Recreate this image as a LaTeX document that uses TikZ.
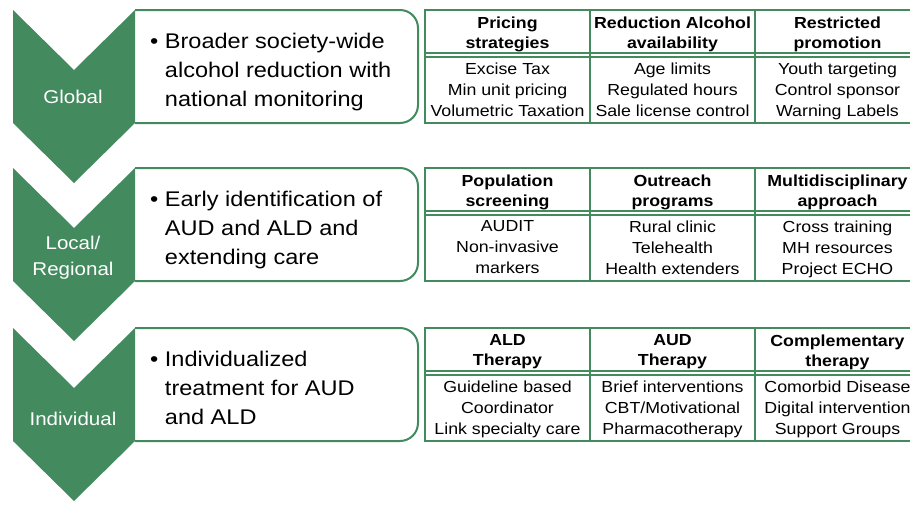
\documentclass[tikz,border=0pt]{standalone}
\usepackage{fontspec}
\setmainfont{Liberation Sans}[FakeStretch=1.11]
\definecolor{grn}{RGB}{67,138,94}
\tikzset{
 rbox/.style={draw=grn,line width=2pt,fill=white,rounded corners=18pt},
 tline/.style={draw=grn,line width=1.4pt},
 lvl/.style={text=white,font=\fontsize{18.5}{26}\selectfont,align=center,inner sep=0pt},
 btxt/.style={font=\fontsize{21.2}{29}\selectfont,align=left,inner sep=0pt,anchor=north west},
 hcell/.style={font=\fontsize{16}{20}\selectfont\bfseries,align=center,inner sep=0pt,anchor=north},
 bcell/.style={font=\fontsize{16}{21}\selectfont,align=center,inner sep=0pt,anchor=north},
}
\newcommand\levelframe[1]{%
 \draw[rbox] (135,#1) -- (418,#1) -- (418,#1+113) -- (135,#1+113);
 \fill[grn] (13,#1) -- (74,#1+60) -- (135,#1) -- (135,#1+113) -- (74,#1+173) -- (13,#1+113) -- cycle;
 \draw[tline] (425,#1) rectangle (925,#1+113);
 \draw[tline] (425,#1+43) -- (925,#1+43) (425,#1+47) -- (925,#1+47);
 \draw[tline] (590,#1) -- (590,#1+113) (755,#1) -- (755,#1+113);
}
\newcommand\hang{\phantom{\textbullet\ }}
\begin{document}
\begin{tikzpicture}[x=1pt,y=-1pt]
\clip (0,0) rectangle (910,504);
\fill[white] (0,0) rectangle (910,504);
% ---------- Global
\levelframe{10}
\node[lvl,anchor=base] (gl) at (73,103) {Global};
\node[btxt] (gt) at (150,33) {\textbullet\ Broader society-wide\\\hang alcohol reduction with\\\hang national monitoring};
\node[hcell] (gh1) at (507.5,16.5) {Pricing\\strategies};
\node[hcell] (gh2) at (672.5,16.5) {Reduction Alcohol\\availability};
\node[hcell] (gh3) at (837.5,16.5) {Restricted\\promotion};
\node[bcell] (gb1) at (507.5,62.5) {Excise Tax\\Min unit pricing\\Volumetric Taxation};
\node[bcell] (gb2) at (672.5,62.5) {Age limits\\Regulated hours\\Sale license control};
\node[bcell] (gb3) at (837.5,62.5) {Youth targeting\\Control sponsor\\Warning Labels};
% ---------- Local / Regional
\levelframe{168}
\node[lvl,anchor=north] (ll) at (73,235.5) {Local/\\Regional};
\node[btxt] (lt) at (150,191) {\textbullet\ Early identification of\\\hang AUD and ALD and\\\hang extending care};
\node[hcell] (lh1) at (507.5,174.5) {Population\\screening};
\node[hcell] (lh2) at (672.5,174.5) {Outreach\\programs};
\node[hcell] (lh3) at (837.5,174.5) {Multidisciplinary\\approach};
\node[bcell] (lb1) at (507.5,220.5) {AUDIT\\Non-invasive\\markers};
\node[bcell] (lb2) at (672.5,220.5) {Rural clinic\\Telehealth\\Health extenders};
\node[bcell] (lb3) at (837.5,220.5) {Cross training\\MH resources\\Project ECHO};
% ---------- Individual
\levelframe{328}
\node[lvl,anchor=base] (il) at (73,425) {Individual};
\node[btxt] (it) at (150,351) {\textbullet\ Individualized\\\hang treatment for AUD\\\hang and ALD};
\node[hcell] (ih1) at (507.5,334.5) {ALD\\Therapy};
\node[hcell] (ih2) at (672.5,334.5) {AUD\\Therapy};
\node[hcell] (ih3) at (837.5,334.5) {Complementary\\therapy};
\node[bcell] (ib1) at (507.5,380.5) {Guideline based\\Coordinator\\Link specialty care};
\node[bcell] (ib2) at (672.5,380.5) {Brief interventions\\CBT/Motivational\\Pharmacotherapy};
\node[bcell] (ib3) at (837.5,380.5) {Comorbid Disease\\Digital intervention\\Support Groups};
\end{tikzpicture}
\end{document}
